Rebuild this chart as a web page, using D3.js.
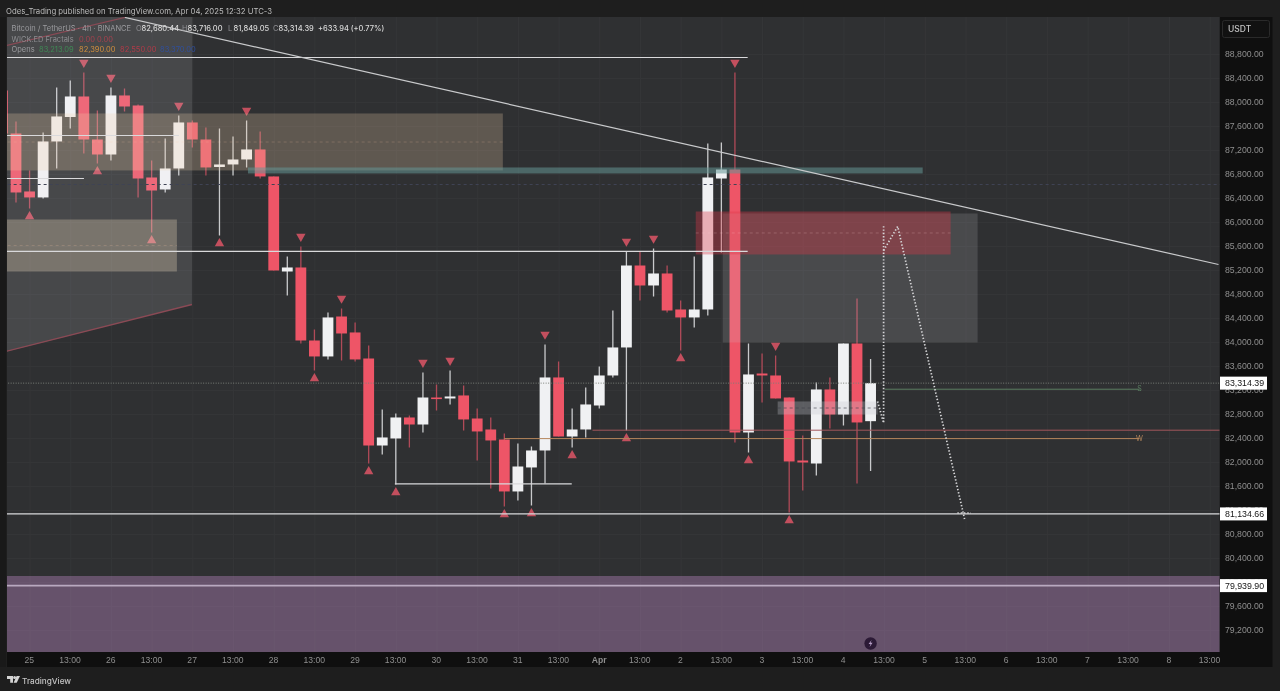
<!DOCTYPE html>
<html><head><meta charset="utf-8">
<script src="https://cdn.jsdelivr.net/npm/d3@7/dist/d3.min.js"></script>
<style>html,body{margin:0;padding:0;background:#1e1e1e;overflow:hidden}svg{display:block;filter:blur(0.3px)}</style>
</head><body><svg id="c" width="1280" height="691"></svg>
<script>
// ---------- data: 4h candles, first candle index is -1 ----------
const firstIndex = -1;
const opens = [88192,87475,86509,86409,87342,87750,88092,87375,87125,88109,87942,86742,86542,86892,87659,87375,86917,86959,87042,87209,86759,85175,85242,84025,83759,84425,84159,83725,82275,82392,82742,82625,83075,83059,83109,82725,82542,82375,81509,81909,82192,83409,82425,82542,82942,83442,83909,85275,84942,85142,84542,84409,84542,86725,86875,82492,83475,83442,83075,82025,81975,83209,82792,83975,82680.44];
const closes = [87475,86492,86409,87342,87759,88092,87375,87125,88109,87925,86725,86525,86892,87659,87375,86909,86959,87042,87209,86759,85192,85242,84025,83759,84409,84142,83709,82275,82409,82742,82625,83075,83050,83092,82709,82509,82359,81509,81925,82192,83409,82425,82542,82959,83442,83909,85275,84942,85142,84525,84409,84542,86742,86875,82492,83459,83442,83059,82009,81992,83209,82792,83975,82659,83314.39];
const highs = [88275,87675,86859,87492,88242,88359,88492,87859,88242,88225,87959,87025,87392,87775,87692,87575,87559,87425,87692,87509,86759,85425,85592,84209,84492,84559,84325,83942,82875,82809,82775,83492,83292,83525,83275,82892,82742,82475,82309,82259,83959,83675,82892,83242,83592,84525,85509,85509,85559,85275,84692,85425,87309,87325,88492,83975,83809,83775,83075,82442,83325,83409,83975,84725,83716];
const lows = [87359,86325,86225,86392,86892,87559,87142,86975,87025,87842,86409,85825,86492,86775,87242,86775,85775,86775,86909,86725,85192,84775,83975,83525,83709,83692,83675,81975,82125,81625,82242,82492,82859,82959,82525,82025,81559,81259,81359,81275,81642,82425,82242,82409,82892,83409,82525,84692,84759,84492,83859,84242,84442,85492,82325,82159,82992,83059,81159,81525,81775,82559,82609,81642,81849.05];

const fractalHigh = [5,7,12,17,21,24,30,32,39,45,47,53,56];
const fractalLow = [1,6,10,15,22,26,28,36,38,41,45,49,54,57];

const priceTicks = [88800,88400,88000,87600,87200,86800,86400,86000,85600,85200,84800,84400,84000,83600,83200,82800,82400,82000,81600,81200,80800,80400,80000,79600,79200];
const timeTickIndex = [1,4,7,10,13,16,19,22,25,28,31,34,37,40,43,46,49,52,55,58,61,64,67,70,73,76,79,82,85,88];
const timeTickLabels = ["25","13:00","26","13:00","27","13:00","28","13:00","29","13:00","30","13:00","31","13:00","Apr","13:00","2","13:00","3","13:00","4","13:00","5","13:00","6","13:00","7","13:00","8","13:00"];
const priceTags = [83314.39,81134.66,79939.90];

// annotation drawings, as [candle index, price]
const grayWedge = [[-1.5,89500],[13,89500],[12.97,84625],[-0.66,83842]];
const wedgeEdge = [[-1.5,83800],[12.97,84625]];
const wedgeTopEdge = [[-1.5,88900],[8.03,89409]];
const trendline = [[8.03,89409],[88.65,85292]];
const tanZones = [[-1.5,35.89,87809,86859,"rgba(238,208,170,0.25)"],[-1.5,11.86,86042,85175,"rgba(238,218,190,0.3)"]];
const tanMid = [[-1.5,35.89,87333],[-1.5,11.86,85609]];
const tealZone = [17.1,66.84,86909,86809];
const redZone = [50.11,68.9,86175,85459];
const greyZone = [52.1,70.89,86142,83992];
const greyPill = [56.15,63.52,83009,82792];
const purpleZone = [-1.5,90,80100,78400];
const whiteLevels = [[-1.5,53.94,88742],[-1.5,53.94,85509],[-1.5,12.01,87442],[-1.5,5.01,86725],[27.93,40.97,81634],[-1.5,90,81134.66]];
const purpleLevel = [-1.5,90,79939.9];
const lastPriceLevel = [-1.5,90,83314.39];
const faintDashLevel = [-1.5,90,86625];
const opensLevels = [[64.04,82.83,83213.09,"#5c7f62"],[36,82.83,82390,"#b5865c"],[42.5,90,82530,"#a2565c"]];
const dottedA = [[63.52,83009],[63.96,82650],[63.96,85942]];
const dottedB = [[63.96,85525],[65,85925],[69.93,81050]];
const dottedEnd = [[69.4,81150],[70.4,81150]];

// ---------- layout ----------
const svg = d3.select("#c");
const L=7,R=1219.5,T=17,B=652;
const x = d3.scaleLinear().domain([-1,88]).range([2.43,1209.7]);
const y = d3.scaleLinear().domain([88800,79200]).range([54,630]);
const sans = "Liberation Sans, Arial, sans-serif", ui = "Inter, Liberation Sans, sans-serif";
const bodyW = 10.8;

svg.append("rect").attr("width",1280).attr("height",691).attr("fill","#1e1e1e");
svg.append("rect").attr("x",0).attr("y",17).attr("width",6).attr("height",650).attr("fill","#191919");
svg.append("rect").attr("x",L).attr("y",B).attr("width",1265).attr("height",15).attr("fill","#0f0f0f");
svg.append("rect").attr("x",1220).attr("y",T).attr("width",52.5).attr("height",650).attr("fill","#0f0f0f");
svg.append("rect").attr("x",L).attr("y",T).attr("width",R-L).attr("height",B-T).attr("fill","#2f3032");

svg.append("defs").append("clipPath").attr("id","plot").append("rect").attr("x",L).attr("y",T).attr("width",R-L).attr("height",B-T);
const g = svg.append("g").attr("clip-path","url(#plot)");

// grid
const gridY = g.append("g").attr("transform",`translate(${L},0)`).call(d3.axisRight(y).tickValues(priceTicks).tickSize(R-L).tickFormat(""));
gridY.select(".domain").remove();
gridY.selectAll("line").attr("stroke","#343537");
const gridX = g.append("g").attr("transform",`translate(0,${T})`).call(d3.axisBottom(x).tickValues(timeTickIndex).tickSize(B-T).tickFormat(""));
gridX.select(".domain").remove();
gridX.selectAll("line").attr("stroke","#353638");

const line = d3.line().x(d=>x(d[0])).y(d=>y(d[1]));
function zone(sel,z,fill){return sel.append("rect").attr("x",x(z[0])).attr("width",x(z[1])-x(z[0])).attr("y",y(z[2])).attr("height",y(z[3])-y(z[2])).attr("fill",fill);}
function level(sel,l,stroke,w,dash){return sel.append("line").attr("x1",x(l[0])).attr("x2",x(l[1])).attr("y1",y(l[2])).attr("y2",y(l[2])).attr("stroke",stroke).attr("stroke-width",w).attr("stroke-dasharray",dash||null);}

// candles
const candles = opens.map((o,i)=>({i:i+firstIndex,o,c:closes[i],h:highs[i],l:lows[i],up:closes[i]>=o}));
const cg = g.append("g");
cg.selectAll(".wick").data(candles).join("line")
  .attr("x1",d=>x(d.i)).attr("x2",d=>x(d.i)).attr("y1",d=>y(d.h)).attr("y2",d=>y(d.l))
  .attr("stroke",d=>d.up?"#c9cacc":"#b04a58").attr("stroke-width",1.3);
cg.selectAll(".body").data(candles).join("rect")
  .attr("x",d=>x(d.i)-bodyW/2).attr("width",bodyW)
  .attr("y",d=>y(Math.max(d.o,d.c))).attr("height",d=>Math.max(1.6,y(Math.min(d.o,d.c))-y(Math.max(d.o,d.c))))
  .attr("fill",d=>d.up?"#f0f1f3":"#ee5567");

// fractal markers
const byIdx = new Map(candles.map(d=>[d.i,d]));
const tri = d3.symbol().type(d3.symbolTriangle).size(38);
g.append("g").selectAll("path").data(fractalHigh).join("path").attr("d",tri)
  .attr("transform",d=>`translate(${x(d)},${y(byIdx.get(d).h)-10}) rotate(180)`).attr("fill","#c34f5e");
g.append("g").selectAll("path").data(fractalLow).join("path").attr("d",tri)
  .attr("transform",d=>`translate(${x(d)},${y(byIdx.get(d).l)+8})`).attr("fill","#c34f5e");

// zones over candles
g.append("path").attr("d",line(grayWedge)+"Z").attr("fill","rgba(240,240,245,0.125)");
g.append("path").attr("d",line(wedgeEdge)).attr("fill","none").attr("stroke","#8b4a55").attr("stroke-width",1.4);
g.append("path").attr("d",line(wedgeTopEdge)).attr("fill","none").attr("stroke","#8b4a55").attr("stroke-width",1.2);
tanZones.forEach(z=>zone(g,z,z[4]));
zone(g,greyZone,"rgba(210,210,215,0.16)");
zone(g,redZone,"rgba(222,55,72,0.36)");
zone(g,tealZone,"rgba(100,150,148,0.55)");
zone(g,greyPill,"rgba(200,200,210,0.3)");
zone(g,purpleZone,"rgba(185,135,192,0.4)");
tanMid.forEach(l=>level(g,l,"rgba(255,200,170,0.2)",1,"3 3"));
level(g,[redZone[0],redZone[1],85817],"rgba(255,210,215,0.22)",1,"3 3");
level(g,[greyPill[0],greyPill[1],82900],"rgba(60,60,70,0.6)",1,"3 3");
level(g,faintDashLevel,"#3f4354",1,"3 3");

// levels
level(g,lastPriceLevel,"#7a7f78",1,"1 1.5");
whiteLevels.forEach(l=>level(g,l,"#d9d9db",1.2));
level(g,purpleLevel,"#b9a9c0",1.6);
opensLevels.forEach(l=>level(g,l,l[3],1));
g.append("path").attr("d",line(trendline)).attr("fill","none").attr("stroke","#c9cacc").attr("stroke-width",1.2);

// projection
[dottedA,dottedB,dottedEnd].forEach(p=>g.append("path").attr("d",line(p)).attr("fill","none").attr("stroke","#d6d6d8").attr("stroke-width",1.7).attr("stroke-dasharray","1.4 1.9"));

// level labels
[["S",83213.09,"#5c7f62"],["W",82390,"#b5865c"]].forEach(a=>g.append("text").attr("x",x(82.83)).attr("y",y(a[1])+2).attr("text-anchor","middle").attr("font-family",ui).attr("font-size",7).attr("fill",a[2]).text(a[0]));

// event icon
g.append("circle").attr("cx",x(63)).attr("cy",y(78975)).attr("r",6.2).attr("fill","#2c1a36");
g.append("path").attr("transform",`translate(${x(63)},${y(78975)})`).attr("d","M1,-3.5L-2,0.5H0L-1,3.5L2,-0.8H0Z").attr("fill","#b8a0c8");

// y axis
const yAx = svg.append("g").attr("transform","translate(1220,0)").call(d3.axisRight(y).tickValues(priceTicks).tickSize(0).tickPadding(5).tickFormat(d3.format(",.2f")));
yAx.select(".domain").remove();
yAx.selectAll("text").attr("font-family",sans).attr("font-size",8.7).attr("fill","#8f8f8f");

// x axis
const xAx = svg.append("g").attr("transform","translate(-0.7,656.5)").call(d3.axisBottom(x).tickValues(timeTickIndex).tickSize(0).tickPadding(0).tickFormat((d,i)=>timeTickLabels[i]));
xAx.select(".domain").remove();
xAx.selectAll("text").attr("font-family",sans).attr("font-size",8.6).attr("fill","#8f8f8f").attr("font-weight",d=>timeTickLabels[timeTickIndex.indexOf(d)]==="Apr"?"bold":null);

// price tags
const tg = svg.append("g").selectAll("g").data(priceTags).join("g").attr("transform",d=>`translate(1220,${y(d)})`);
tg.append("rect").attr("x",0).attr("y",-6.5).attr("width",47).attr("height",13).attr("fill","#ffffff");
tg.append("text").attr("x",5).attr("y",3).attr("font-family",sans).attr("font-size",8.8).attr("fill","#151515").text(d=>d3.format(",.2f")(d));

// USDT box
svg.append("rect").attr("x",1222.5).attr("y",20.5).attr("width",47).attr("height",17).attr("rx",2).attr("fill","#111").attr("stroke","#2a2a2a");
svg.append("text").attr("x",1228).attr("y",31.5).attr("font-family",ui).attr("font-size",8.5).attr("font-weight",500).attr("fill","#c4c4c4").text("USDT");

// header
svg.append("text").attr("x",6).attr("y",13.8).attr("font-family",ui).attr("font-size",7.75).attr("fill","#bdbdbd").text("Odes_Trading published on TradingView.com, Apr 04, 2025 12:32 UTC-3");

// legend
function txt(xp,yp,s,fill,weight){svg.append("text").attr("x",xp).attr("y",yp).attr("font-family",ui).attr("font-size",7.5).attr("font-weight",weight||400).attr("fill",fill).text(s);}
txt(11.5,30.7,"Bitcoin / TetherUS · 4h · BINANCE","#9b9b9f");
[[136,"O","82,680.44"],[182,"H","83,716.00"],[228,"L","81,849.05"],[273,"C","83,314.39"]].forEach(a=>{txt(a[0],30.7,a[1],"#8e8e92");txt(a[0]+5.5,30.7,a[2],"#d8d8d8",500);});
txt(318,30.7,"+633.94 (+0.77%)","#d8d8d8",500);
txt(11.5,41.5,"WICK.ED Fractals","#8c8c90");
txt(79,41.5,"0.00","#a8414e");txt(97,41.5,"0.00","#a8414e");
txt(11.5,52,"Opens","#9b9b9f");
txt(39,52,"83,213.09","#3f8a55");txt(79,52,"82,390.00","#d18f3c");txt(120,52,"82,550.00","#b23a48");txt(160,52,"83,370.00","#2f4f9f");

// footer logo
const logo = svg.append("g").attr("transform","translate(7,676)").attr("fill","#d4d4d4");
logo.append("path").attr("d","M0,0H6V6.8H3.2V3H0Z");
logo.append("circle").attr("cx",7.6).attr("cy",1.5).attr("r",1.5);
logo.append("path").attr("d","M9.6,0H13L9.7,6.8H6.6Z");
svg.append("text").attr("x",22).attr("y",683.5).attr("font-family",ui).attr("font-size",8.2).attr("font-weight",500).attr("fill","#c4c4c4").text("TradingView");
</script></body></html>
